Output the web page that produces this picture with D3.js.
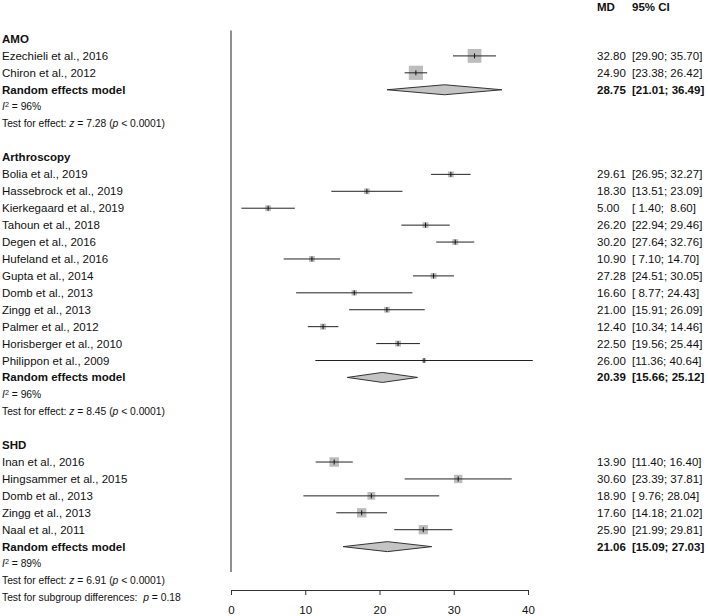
<!DOCTYPE html>
<html>
<head>
<meta charset="utf-8">
<script src="https://cdn.jsdelivr.net/npm/d3@7"></script>
<style>
  html, body { margin: 0; padding: 0; background: #ffffff; }
  svg text { font-family: "Liberation Sans", Arial, Helvetica, sans-serif; fill: #111; white-space: pre; }
</style>
</head>
<body>
<svg id="chart" width="708" height="616"></svg>
<script>
// ---------- DATA ----------
const groupNames = ["AMO", "Arthroscopy", "SHD"];

const amoStudies = ["Ezechieli et al., 2016", "Chiron et al., 2012"];
const amoMD = [32.80, 24.90];
const amoLower = [29.90, 23.38];
const amoUpper = [35.70, 26.42];
const amoWeight = [48.7, 51.3];
const amoPooled = [28.75, 21.01, 36.49];
const amoI2 = 96;
const amoZ = 7.28;

const arthStudies = ["Bolia et al., 2019", "Hassebrock et al., 2019", "Kierkegaard et al., 2019",
  "Tahoun et al., 2018", "Degen et al., 2016", "Hufeland et al., 2016", "Gupta et al., 2014",
  "Domb et al., 2013", "Zingg et al., 2013", "Palmer et al., 2012", "Horisberger et al., 2010",
  "Philippon et al., 2009"];
const arthMD = [29.61, 18.30, 5.00, 26.20, 30.20, 10.90, 27.28, 16.60, 21.00, 12.40, 22.50, 26.00];
const arthLower = [26.95, 13.51, 1.40, 22.94, 27.64, 7.10, 24.51, 8.77, 15.91, 10.34, 19.56, 11.36];
const arthUpper = [32.27, 23.09, 8.60, 29.46, 32.76, 14.70, 30.05, 24.43, 26.09, 14.46, 25.44, 40.64];
const arthWeight = [8.9, 8.4, 8.7, 8.8, 9.0, 8.7, 8.9, 7.4, 8.3, 9.1, 8.9, 4.9];
const arthPooled = [20.39, 15.66, 25.12];
const arthI2 = 96;
const arthZ = 8.45;

const shdStudies = ["Inan et al., 2016", "Hingsammer et al., 2015", "Domb et al., 2013",
  "Zingg et al., 2013", "Naal et al., 2011"];
const shdMD = [13.90, 30.60, 18.90, 17.60, 25.90];
const shdLower = [11.40, 23.39, 9.76, 14.18, 21.99];
const shdUpper = [16.40, 37.81, 28.04, 21.02, 29.81];
const shdWeight = [23.0, 17.7, 15.3, 22.2, 21.7];
const shdPooled = [21.06, 15.09, 27.03];
const shdI2 = 89;
const shdZ = 6.91;

const subgroupP = "0.18";
const effectP = "< 0.0001";
const axisTicks = [0, 10, 20, 30, 40];
const headerLabels = ["MD", "95% CI"];
const pooledLabel = "Random effects model";

// ---------- BUILD ROWS ----------
const groups = [
  { name: groupNames[0], studies: amoStudies, md: amoMD, lo: amoLower, hi: amoUpper, w: amoWeight, pooled: amoPooled, i2: amoI2, z: amoZ },
  { name: groupNames[1], studies: arthStudies, md: arthMD, lo: arthLower, hi: arthUpper, w: arthWeight, pooled: arthPooled, i2: arthI2, z: arthZ },
  { name: groupNames[2], studies: shdStudies, md: shdMD, lo: shdLower, hi: shdUpper, w: shdWeight, pooled: shdPooled, i2: shdI2, z: shdZ }
];

const rows = [];
let r = 0;
groups.forEach((g, gi) => {
  rows.push({ type: "head", row: r++, label: g.name });
  g.studies.forEach((s, i) => rows.push({ type: "study", row: r++, label: s, md: g.md[i], lo: g.lo[i], hi: g.hi[i], w: g.w[i] }));
  rows.push({ type: "pooled", row: r++, label: pooledLabel, md: g.pooled[0], lo: g.pooled[1], hi: g.pooled[2] });
  rows.push({ type: "i2", row: r++, i2: g.i2 });
  rows.push({ type: "test", row: r++, z: g.z });
  if (gi < groups.length - 1) r++;
});
const lastI2Row = r - 2;
rows.push({ type: "subgroup", row: r++ });
const lastRow = r - 1;

// ---------- SCALES ----------
const svg = d3.select("#chart");
const y = d3.scaleLinear().domain([0, lastRow]).range([39, 597.4]);
const x = d3.scaleLinear().domain([0, 40]).range([231, 528]);
const boxScale = d => 1.98 * Math.sqrt(d);

const fmt = d3.format(".2f");
const pad = v => fmt(v).padStart(5, " ");
const ciText = (lo, hi) => "[" + pad(lo) + "; " + pad(hi) + "]";

const FS = 11.5, FSH = 10.3;
const mdX = 597, ciX = 632, labelX = 2;

// header
svg.append("text").attr("x", mdX).attr("y", 7).attr("dy", "0.35em")
  .attr("font-size", FS).attr("font-weight", "bold").text(headerLabels[0]);
svg.append("text").attr("x", ciX).attr("y", 7).attr("dy", "0.35em")
  .attr("font-size", FS).attr("font-weight", "bold").text(headerLabels[1]);

// zero line
svg.append("line").attr("x1", x(0)).attr("x2", x(0))
  .attr("y1", y(0) - 8.5).attr("y2", y(lastI2Row) + 8.5)
  .attr("stroke", "#555").attr("stroke-width", 1.3);

// rows
rows.forEach(d => {
  const yy = y(d.row);
  if (d.type === "head") {
    svg.append("text").attr("x", labelX).attr("y", yy).attr("dy", "0.35em")
      .attr("font-size", FS).attr("font-weight", "bold").text(d.label);
  } else if (d.type === "study") {
    svg.append("text").attr("x", labelX).attr("y", yy).attr("dy", "0.35em")
      .attr("font-size", FS).text(d.label);
    const s = boxScale(d.w);
    svg.append("rect").attr("x", x(d.md) - s / 2).attr("y", yy - s / 2)
      .attr("width", s).attr("height", s).attr("fill", "#bdbdbd");
    svg.append("line").attr("x1", x(d.lo)).attr("x2", x(d.hi)).attr("y1", yy).attr("y2", yy)
      .attr("stroke", "#222").attr("stroke-width", 1);
    svg.append("line").attr("x1", x(d.md)).attr("x2", x(d.md)).attr("y1", yy - 2.5).attr("y2", yy + 2.5)
      .attr("stroke", "#111").attr("stroke-width", 1);
    svg.append("text").attr("x", mdX).attr("y", yy).attr("dy", "0.35em")
      .attr("font-size", FS).text(fmt(d.md));
    svg.append("text").attr("x", ciX).attr("y", yy).attr("dy", "0.35em")
      .attr("font-size", FS).text(ciText(d.lo, d.hi));
  } else if (d.type === "pooled") {
    svg.append("text").attr("x", labelX).attr("y", yy).attr("dy", "0.35em")
      .attr("font-size", FS).attr("font-weight", "bold").text(d.label);
    const h = 5;
    const pts = [[x(d.lo), yy], [x(d.md), yy - h], [x(d.hi), yy], [x(d.md), yy + h]];
    svg.append("polygon").attr("points", pts.map(p => p.join(",")).join(" "))
      .attr("fill", "#c4c4c4").attr("stroke", "#333").attr("stroke-width", 1);
    svg.append("text").attr("x", mdX).attr("y", yy).attr("dy", "0.35em")
      .attr("font-size", FS).attr("font-weight", "bold").text(fmt(d.md));
    svg.append("text").attr("x", ciX).attr("y", yy).attr("dy", "0.35em")
      .attr("font-size", FS).attr("font-weight", "bold").text(ciText(d.lo, d.hi));
  } else if (d.type === "i2") {
    const t = svg.append("text").attr("x", labelX).attr("y", yy).attr("dy", "0.35em").attr("font-size", FSH);
    t.append("tspan").attr("font-style", "italic").text("I");
    t.append("tspan").attr("font-size", FSH * 0.7).attr("dy", "-0.45em").text("2");
    t.append("tspan").attr("dy", "0.3em").text(" = " + d.i2 + "%");
  } else if (d.type === "test") {
    const t = svg.append("text").attr("x", labelX).attr("y", yy).attr("dy", "0.35em").attr("font-size", FSH);
    t.append("tspan").text("Test for effect: ");
    t.append("tspan").attr("font-style", "italic").text("z");
    t.append("tspan").text(" = " + fmt(d.z) + " (");
    t.append("tspan").attr("font-style", "italic").text("p");
    t.append("tspan").text(" " + effectP + ")");
  } else if (d.type === "subgroup") {
    const t = svg.append("text").attr("x", labelX).attr("y", yy).attr("dy", "0.35em").attr("font-size", FSH);
    t.append("tspan").text("Test for subgroup differences:  ");
    t.append("tspan").attr("font-style", "italic").text("p");
    t.append("tspan").text(" = " + subgroupP);
  }
});

// x axis
const axisG = svg.append("g").attr("transform", "translate(0,590)")
  .call(d3.axisBottom(x).tickValues(axisTicks).tickFormat(d3.format("d"))
    .tickSize(5).tickSizeOuter(0).tickPadding(11));
axisG.select(".domain").attr("stroke", "#333");
axisG.selectAll(".tick line").attr("stroke", "#333");
axisG.selectAll(".tick text").attr("font-size", FS)
  .attr("font-family", "'Liberation Sans', Arial, Helvetica, sans-serif").attr("fill", "#111");
</script>
</body>
</html>
